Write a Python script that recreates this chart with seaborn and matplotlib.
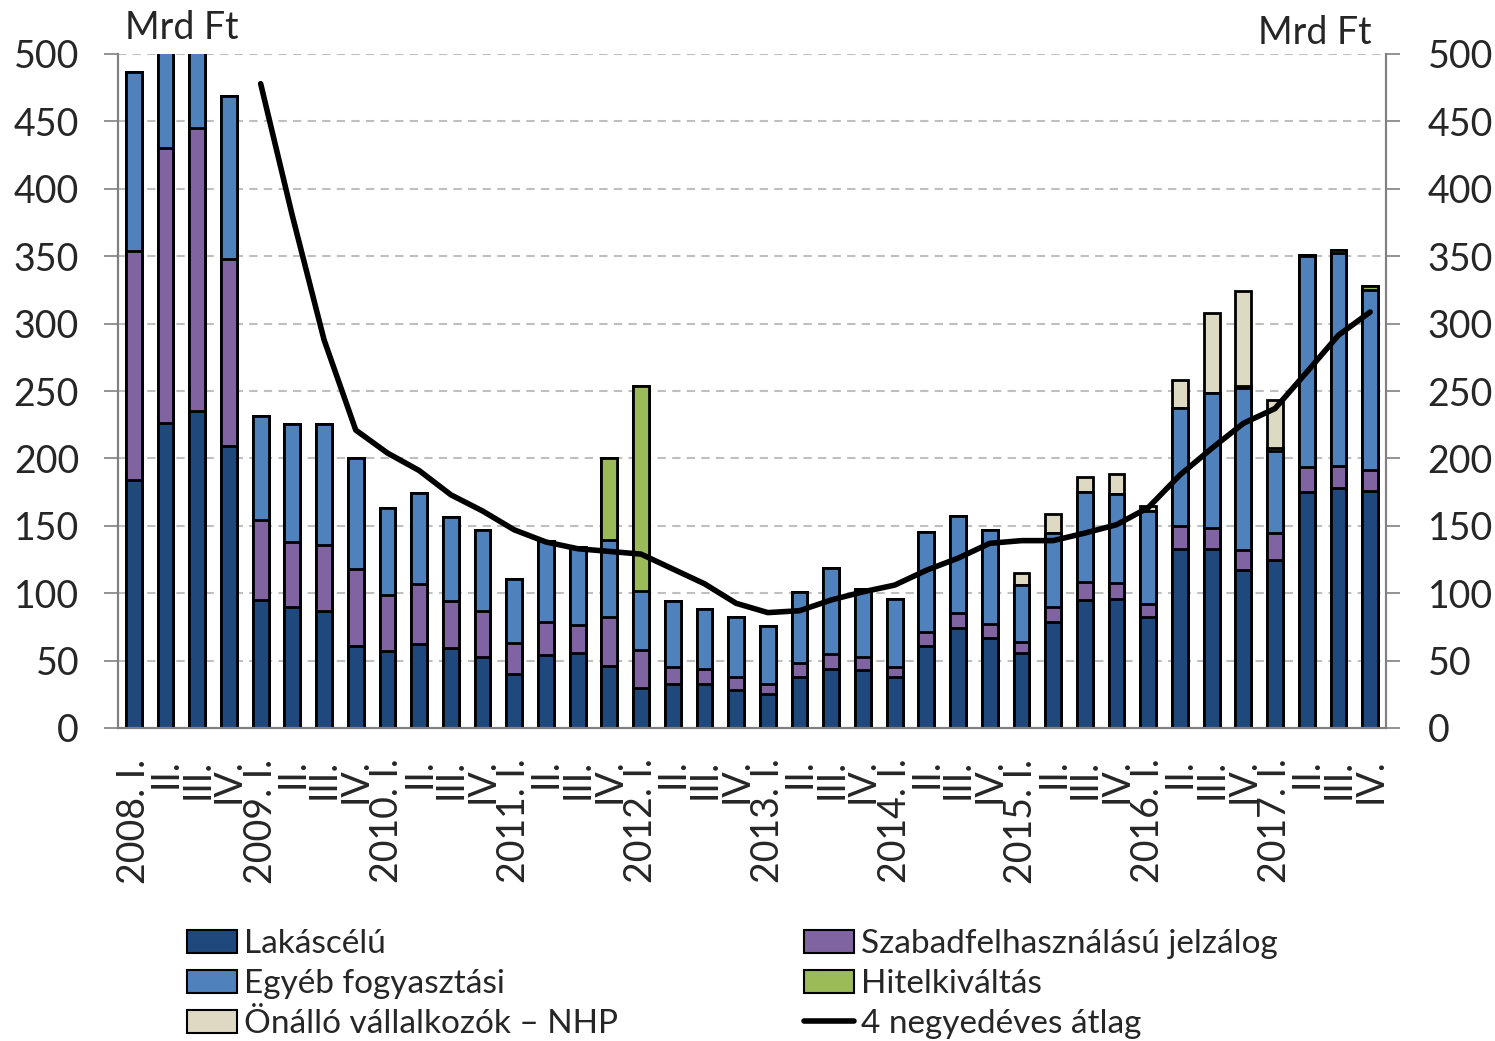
import numpy as np
import pandas as pd
import matplotlib.pyplot as plt
import seaborn as sns
from matplotlib.patches import Patch
from matplotlib.lines import Line2D

# quarterly new lending, Mrd Ft (2008 Q1 .. 2017 Q4)
years = list(range(2008, 2018))
quarters = ['I.', 'II.', 'III.', 'IV.']

lakascelu = [184, 226, 235, 209, 95, 90, 87, 61, 57, 62, 59, 53, 40, 54, 56, 46,
             30, 33, 33, 28, 25, 38, 44, 43, 38, 61, 74, 67, 56, 79, 95, 96,
             82, 133, 133, 117, 125, 175, 178, 176]
szabad = [170, 204, 210, 139, 59, 48, 49, 57, 42, 45, 35, 34, 23, 25, 20.5, 36,
          28, 12, 11, 10, 7.5, 10, 10.6, 10, 7.5, 10.5, 11, 10.5, 7.5, 11, 13, 11.4,
          10, 17, 15, 15, 19.5, 18.3, 16.3, 15.4]
egyeb = [132.7, 188, 149, 120.5, 77.6, 87.6, 89.6, 82.4, 64, 67.5, 62.3, 60, 47.6, 59.4, 57.5, 57.8,
         44, 49.5, 44.5, 44.6, 43, 53, 64, 50.4, 50, 74, 72, 69.4, 42.7, 54.3, 67.3, 66,
         68.7, 87.5, 100.5, 120.5, 60.7, 156.7, 158.3, 133.8]
hitelkivaltas = [0, 0, 0, 0, 0, 0, 0, 0, 0, 0, 0, 0, 0, 0, 0, 60.3,
                 152, 0, 0, 0, 0, 0, 0, 0, 0, 0, 0, 0, 0, 0, 0, 0,
                 0, 0, 0, 1.5, 2.3, 0.8, 1.7, 2.5]
nhp = [0, 0, 0, 0, 0, 0, 0, 0, 0, 0, 0, 0, 0, 0, 0, 0,
       0, 0, 0, 0, 0, 0, 0, 0, 0, 0, 0, 0, 8.6, 14.7, 11.2, 14.8,
       4.3, 20.5, 59.6, 70, 36, 0, 0, 0]
# 4-quarter average, from 2009 Q1
atlag = [478, 380, 288, 221, 204, 191, 173, 161, 147, 138, 133, 131,
         129, 118, 107, 92.5, 85.6, 87, 95, 101, 106, 117, 126, 137,
         139, 139, 144.6, 150.8, 163.5, 187.7, 207.4, 226, 237, 264, 291.4, 308.6]

labels = []
for y in years:
    for i, q in enumerate(quarters):
        labels.append(f'{y}. {q}' if i == 0 else q)
keys = [f'{y}Q{i+1}' for y in years for i in range(4)]

series = ['Lakáscélú', 'Szabadfelhasználású jelzálog', 'Egyéb fogyasztási',
          'Hitelkiváltás', 'Önálló vállalkozók – NHP']
colors = ['#1F497D', '#8064A2', '#4F81BD', '#9BBB59', '#DDD9C3']
df = pd.DataFrame({'q': keys, series[0]: lakascelu, series[1]: szabad,
                   series[2]: egyeb, series[3]: hitelkivaltas, series[4]: nhp})
cum = df[series].cumsum(axis=1)

sns.set_style('white')
plt.rcParams['font.family'] = ['Lato', 'DejaVu Sans']

fig = plt.figure(figsize=(14.95, 10.41), dpi=100)
ax = fig.add_axes([118 / 1495, 1 - 728 / 1041, (1386 - 118) / 1495, (728 - 54) / 1041])

# stacked bars: draw cumulative totals from the top layer down
for s, c in reversed(list(zip(series, colors))):
    sns.barplot(x=df['q'], y=cum[s], color=c, saturation=1, width=0.5,
                edgecolor='black', linewidth=2, ax=ax, zorder=2)

x_line = np.arange(4, 40)
sns.lineplot(x=x_line, y=atlag, color='black', linewidth=4, ax=ax, zorder=3)

ax.set_ylim(0, 500)
ax.set_xlim(-0.5, 39.5)
ax.set_yticks(np.arange(0, 501, 50))
ax.set_xlabel('')
ax.set_ylabel('')
ax.yaxis.grid(True, linestyle=(0, (4, 3)), color='#BFBFBF', linewidth=1.5)
ax.set_axisbelow(True)

ax.set_xticks(np.arange(-0.5, 40, 1))
ax.set_xticklabels([])
ax.set_xticks(np.arange(40), minor=True)
ax.set_xticklabels(labels, minor=True, rotation=90, fontsize=27, va='top')
ax.tick_params(axis='x', which='major', length=12, width=1.2, color='#808080', direction='out')
ax.tick_params(axis='x', which='minor', length=0, pad=22)
ax.tick_params(axis='y', length=10, width=1.2, color='#808080', direction='out', labelsize=27, pad=18,
               left=True)

ax.spines['top'].set_visible(False)
for sp in ['left', 'right', 'bottom']:
    ax.spines[sp].set_color('#808080')
    ax.spines[sp].set_linewidth(1.5)

ax2 = ax.twinx()
ax2.set_ylim(0, 500)
ax2.set_yticks(np.arange(0, 501, 50))
ax2.tick_params(axis='y', length=10, width=1.2, color='#808080', direction='out', labelsize=27, pad=20)
ax2.spines['top'].set_visible(False)
for sp in ['left', 'right', 'bottom']:
    ax2.spines[sp].set_color('#808080')
    ax2.spines[sp].set_linewidth(1.5)

fig.text(125 / 1495, 1 - 28 / 1041, 'Mrd Ft', fontsize=27, va='center', ha='left')
fig.text(1372 / 1495, 1 - 33 / 1041, 'Mrd Ft', fontsize=27, va='center', ha='right')

handles = [Patch(facecolor=colors[0], edgecolor='black', linewidth=1.5, label=series[0]),
           Patch(facecolor=colors[2], edgecolor='black', linewidth=1.5, label=series[2]),
           Patch(facecolor=colors[4], edgecolor='black', linewidth=1.5, label=series[4]),
           Patch(facecolor=colors[1], edgecolor='black', linewidth=1.5, label=series[1]),
           Patch(facecolor=colors[3], edgecolor='black', linewidth=1.5, label=series[3]),
           Line2D([0], [0], color='black', linewidth=4, label='4 negyedéves átlag')]
fig.legend(handles=handles, ncol=2, loc='upper left', bbox_to_anchor=(187 / 1495, 1 - 929 / 1041),
           frameon=False, fontsize=24, handlelength=1.5, handleheight=0.7, handletextpad=0.2,
           labelspacing=0.3, columnspacing=5.6, borderaxespad=0, borderpad=0)

fig.savefig('out.png', dpi=100)
